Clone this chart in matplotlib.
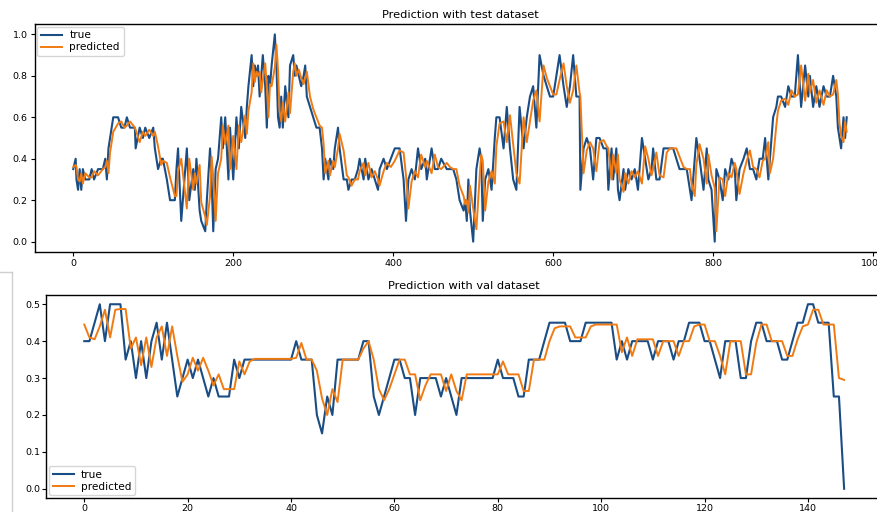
import matplotlib
matplotlib.use("Agg")
import matplotlib.pyplot as plt
from matplotlib.lines import Line2D

# ---------------- data: test dataset (top panel) ----------------
test_idx = [0, 3, 4, 6, 8, 10, 12, 15, 20, 23, 26, 31, 37, 40, 42, 44, 46, 48, 50, 56,
            60, 64, 67, 71, 77, 78, 83, 87, 90, 95, 100, 102, 106, 110, 112, 117, 121, 127, 129, 131,
            135, 142, 145, 150, 152, 154, 158, 160, 165, 167, 171, 173, 175, 178, 181, 185, 187, 190, 194, 196,
            200, 204, 207, 210, 215, 217, 219, 223, 225, 227, 229, 231, 233, 235, 237, 240, 242, 244, 246, 248,
            252, 254, 256, 258, 260, 262, 265, 269, 271, 275, 277, 279, 282, 285, 288, 290, 292, 296, 300, 304,
            308, 311, 313, 315, 319, 321, 325, 327, 331, 333, 338, 342, 344, 348, 352, 356, 358, 363, 365, 369,
            373, 377, 381, 383, 388, 392, 397, 402, 408, 413, 416, 419, 423, 427, 431, 435, 440, 442, 448, 452,
            456, 460, 467, 471, 475, 479, 481, 483, 488, 490, 492, 494, 496, 500, 504, 508, 510, 512, 515, 519,
            523, 527, 529, 533, 538, 542, 546, 550, 554, 558, 563, 567, 571, 575, 579, 583, 588, 592, 596, 600,
            604, 608, 613, 617, 621, 625, 629, 633, 634, 638, 642, 646, 650, 654, 658, 663, 667, 669, 673, 675,
            679, 681, 683, 688, 690, 694, 698, 702, 706, 711, 715, 719, 723, 725, 729, 733, 738, 742, 746, 750,
            754, 758, 763, 767, 771, 773, 777, 779, 783, 788, 792, 794, 798, 802, 804, 808, 812, 815, 819, 823,
            827, 829, 833, 838, 842, 846, 850, 854, 858, 862, 865, 869, 871, 875, 879, 881, 885, 890, 894, 898,
            902, 906, 910, 915, 919, 921, 925, 929, 933, 938, 942, 946, 950, 954, 956, 958, 960, 963, 965, 967]

test_true = [0.35, 0.40, 0.30, 0.25, 0.35, 0.25, 0.35, 0.30, 0.30, 0.35, 0.30, 0.35, 0.35, 0.40, 0.30, 0.45, 0.50, 0.55, 0.60, 0.60,
             0.55, 0.55, 0.60, 0.55, 0.55, 0.45, 0.55, 0.50, 0.55, 0.50, 0.55, 0.45, 0.35, 0.40, 0.40, 0.30, 0.20, 0.20, 0.35, 0.45,
             0.10, 0.45, 0.20, 0.35, 0.25, 0.40, 0.15, 0.10, 0.05, 0.20, 0.45, 0.30, 0.05, 0.35, 0.40, 0.60, 0.45, 0.60, 0.30, 0.55,
             0.30, 0.60, 0.45, 0.65, 0.50, 0.65, 0.75, 0.90, 0.75, 0.85, 0.80, 0.85, 0.70, 0.80, 0.90, 0.75, 0.55, 0.80, 0.75, 0.85,
             1.00, 0.85, 0.60, 0.55, 0.70, 0.55, 0.75, 0.60, 0.85, 0.90, 0.80, 0.85, 0.80, 0.75, 0.80, 0.85, 0.70, 0.65, 0.60, 0.55,
             0.55, 0.45, 0.30, 0.40, 0.30, 0.40, 0.35, 0.45, 0.55, 0.45, 0.30, 0.30, 0.25, 0.30, 0.30, 0.35, 0.40, 0.30, 0.40, 0.30,
             0.35, 0.30, 0.25, 0.35, 0.40, 0.35, 0.40, 0.45, 0.45, 0.30, 0.10, 0.30, 0.35, 0.30, 0.45, 0.35, 0.40, 0.30, 0.45, 0.35,
             0.35, 0.40, 0.35, 0.35, 0.35, 0.30, 0.25, 0.20, 0.15, 0.20, 0.10, 0.30, 0.15, 0.00, 0.35, 0.45, 0.40, 0.10, 0.30, 0.35,
             0.25, 0.50, 0.60, 0.60, 0.45, 0.65, 0.45, 0.30, 0.25, 0.65, 0.45, 0.60, 0.70, 0.75, 0.55, 0.90, 0.80, 0.75, 0.70, 0.70,
             0.80, 0.90, 0.75, 0.65, 0.75, 0.90, 0.70, 0.70, 0.25, 0.45, 0.50, 0.45, 0.30, 0.50, 0.50, 0.45, 0.45, 0.25, 0.45, 0.30,
             0.45, 0.25, 0.20, 0.35, 0.25, 0.35, 0.30, 0.35, 0.25, 0.50, 0.40, 0.30, 0.35, 0.45, 0.30, 0.30, 0.45, 0.45, 0.45, 0.45,
             0.40, 0.35, 0.35, 0.35, 0.25, 0.20, 0.40, 0.50, 0.40, 0.25, 0.45, 0.30, 0.25, 0.00, 0.35, 0.30, 0.20, 0.35, 0.30, 0.40,
             0.35, 0.20, 0.35, 0.40, 0.45, 0.35, 0.35, 0.30, 0.40, 0.40, 0.50, 0.30, 0.40, 0.60, 0.65, 0.70, 0.70, 0.65, 0.75, 0.70,
             0.70, 0.90, 0.65, 0.85, 0.70, 0.80, 0.65, 0.75, 0.65, 0.75, 0.70, 0.70, 0.80, 0.70, 0.55, 0.50, 0.45, 0.60, 0.50, 0.60]

test_pred = [0.36, 0.37, 0.36, 0.30, 0.29, 0.33, 0.28, 0.33, 0.31, 0.31, 0.34, 0.32, 0.35, 0.36, 0.39, 0.33, 0.43, 0.48, 0.53, 0.57,
             0.58, 0.55, 0.56, 0.58, 0.55, 0.54, 0.48, 0.53, 0.51, 0.54, 0.51, 0.53, 0.46, 0.37, 0.39, 0.38, 0.31, 0.22, 0.22, 0.34,
             0.40, 0.16, 0.40, 0.25, 0.33, 0.28, 0.37, 0.19, 0.12, 0.08, 0.22, 0.41, 0.31, 0.10, 0.33, 0.40, 0.56, 0.47, 0.56, 0.35,
             0.51, 0.35, 0.56, 0.48, 0.61, 0.52, 0.63, 0.72, 0.86, 0.77, 0.82, 0.80, 0.82, 0.72, 0.78, 0.86, 0.75, 0.60, 0.76, 0.75,
             0.84, 0.95, 0.83, 0.63, 0.58, 0.67, 0.58, 0.72, 0.62, 0.82, 0.86, 0.80, 0.83, 0.79, 0.76, 0.79, 0.82, 0.70, 0.64, 0.60,
             0.56, 0.55, 0.47, 0.33, 0.39, 0.32, 0.39, 0.36, 0.45, 0.52, 0.44, 0.32, 0.31, 0.27, 0.30, 0.30, 0.34, 0.38, 0.32, 0.38,
             0.31, 0.34, 0.30, 0.27, 0.34, 0.38, 0.36, 0.39, 0.44, 0.43, 0.32, 0.16, 0.29, 0.34, 0.31, 0.42, 0.36, 0.39, 0.33, 0.42,
             0.36, 0.35, 0.38, 0.36, 0.35, 0.35, 0.31, 0.27, 0.22, 0.18, 0.20, 0.14, 0.27, 0.16, 0.06, 0.31, 0.42, 0.39, 0.15, 0.29,
             0.34, 0.28, 0.46, 0.57, 0.58, 0.48, 0.61, 0.47, 0.33, 0.28, 0.60, 0.48, 0.58, 0.68, 0.73, 0.58, 0.85, 0.79, 0.75, 0.71,
             0.71, 0.78, 0.86, 0.75, 0.67, 0.73, 0.85, 0.72, 0.70, 0.33, 0.44, 0.48, 0.45, 0.34, 0.48, 0.49, 0.46, 0.45, 0.30, 0.42,
             0.33, 0.42, 0.30, 0.24, 0.33, 0.28, 0.34, 0.31, 0.34, 0.28, 0.46, 0.40, 0.32, 0.35, 0.43, 0.32, 0.31, 0.43, 0.45, 0.45,
             0.45, 0.41, 0.36, 0.35, 0.35, 0.28, 0.22, 0.37, 0.47, 0.40, 0.28, 0.42, 0.32, 0.26, 0.05, 0.31, 0.30, 0.22, 0.33, 0.31,
             0.38, 0.35, 0.23, 0.33, 0.39, 0.44, 0.36, 0.35, 0.31, 0.39, 0.40, 0.48, 0.33, 0.40, 0.56, 0.63, 0.68, 0.69, 0.66, 0.73,
             0.70, 0.71, 0.85, 0.68, 0.81, 0.72, 0.78, 0.67, 0.73, 0.66, 0.73, 0.70, 0.71, 0.78, 0.71, 0.57, 0.51, 0.48, 0.58, 0.53]

# ---------------- data: val dataset (bottom panel) ----------------
val_true = [0.40, 0.40, 0.45, 0.50, 0.40, 0.50, 0.50, 0.50, 0.35, 0.40,
            0.30, 0.40, 0.30, 0.40, 0.45, 0.35, 0.45, 0.35, 0.25, 0.30,
            0.35, 0.30, 0.35, 0.30, 0.25, 0.30, 0.25, 0.25, 0.25, 0.35,
            0.30, 0.35, 0.35, 0.35, 0.35, 0.35, 0.35, 0.35, 0.35, 0.35,
            0.35, 0.40, 0.35, 0.35, 0.35, 0.20, 0.15, 0.25, 0.20, 0.35,
            0.35, 0.35, 0.35, 0.35, 0.40, 0.40, 0.25, 0.20, 0.25, 0.30,
            0.35, 0.35, 0.30, 0.30, 0.20, 0.30, 0.30, 0.30, 0.30, 0.25,
            0.30, 0.25, 0.20, 0.30, 0.30, 0.30, 0.30, 0.30, 0.30, 0.30,
            0.35, 0.30, 0.30, 0.30, 0.25, 0.25, 0.35, 0.35, 0.35, 0.40,
            0.45, 0.45, 0.45, 0.45, 0.40, 0.40, 0.40, 0.45, 0.45, 0.45,
            0.45, 0.45, 0.45, 0.35, 0.40, 0.35, 0.40, 0.40, 0.40, 0.40,
            0.35, 0.40, 0.40, 0.40, 0.35, 0.40, 0.40, 0.45, 0.45, 0.45,
            0.40, 0.40, 0.35, 0.30, 0.40, 0.40, 0.40, 0.30, 0.30, 0.40,
            0.45, 0.45, 0.40, 0.40, 0.40, 0.35, 0.35, 0.40, 0.45, 0.45,
            0.50, 0.50, 0.45, 0.45, 0.45, 0.25, 0.25, 0.00]

val_pred = [0.445, 0.410, 0.405, 0.440, 0.485, 0.410, 0.485, 0.487, 0.487, 0.380,
            0.410, 0.335, 0.410, 0.330, 0.410, 0.440, 0.360, 0.440, 0.360, 0.290,
            0.310, 0.355, 0.320, 0.355, 0.320, 0.280, 0.310, 0.270, 0.270, 0.270,
            0.345, 0.310, 0.345, 0.352, 0.352, 0.352, 0.352, 0.352, 0.352, 0.352,
            0.352, 0.355, 0.395, 0.350, 0.350, 0.320, 0.245, 0.200, 0.270, 0.235,
            0.350, 0.350, 0.350, 0.350, 0.380, 0.400, 0.350, 0.270, 0.240, 0.270,
            0.310, 0.350, 0.350, 0.310, 0.310, 0.240, 0.280, 0.310, 0.310, 0.310,
            0.265, 0.310, 0.265, 0.240, 0.310, 0.310, 0.310, 0.310, 0.310, 0.310,
            0.310, 0.345, 0.310, 0.310, 0.310, 0.265, 0.265, 0.350, 0.350, 0.350,
            0.400, 0.435, 0.440, 0.440, 0.440, 0.410, 0.410, 0.410, 0.440, 0.445,
            0.445, 0.445, 0.445, 0.445, 0.370, 0.410, 0.360, 0.405, 0.405, 0.405,
            0.405, 0.360, 0.400, 0.400, 0.400, 0.360, 0.400, 0.400, 0.440, 0.445,
            0.445, 0.400, 0.400, 0.360, 0.310, 0.400, 0.400, 0.400, 0.310, 0.310,
            0.395, 0.445, 0.445, 0.400, 0.400, 0.400, 0.360, 0.360, 0.405, 0.440,
            0.445, 0.485, 0.485, 0.445, 0.445, 0.445, 0.300, 0.295]

val_idx = list(range(len(val_true)))

# ---------------- styling ----------------
BLUE = "#1b4d85"
ORANGE = "#f07b12"
plt.rcParams["font.family"] = ["DejaVu Sans"]

fig = plt.figure(figsize=(8.78, 5.12), dpi=100)

ax1 = fig.add_axes([0.0394, 0.5078, 0.969, 0.4453])
ax1.plot(test_idx, test_true, color=BLUE, lw=1.5, label="true")
ax1.plot(test_idx, test_pred, color=ORANGE, lw=1.4, label="predicted")
ax1.set_title("Prediction with test dataset", fontsize=8.2, pad=4)
ax1.set_xticks([0, 200, 400, 600, 800, 1000])
ax1.set_yticks([0.0, 0.2, 0.4, 0.6, 0.8, 1.0])
ax1.tick_params(labelsize=6.8, length=3, pad=2)
ax1.legend(loc="upper left", fontsize=7.6, handlelength=2.0, borderpad=0.35,
           labelspacing=0.2, borderaxespad=0.25, handletextpad=0.7)

ax2 = fig.add_axes([0.0527, 0.0273, 0.952, 0.3965])
ax2.plot(val_idx, val_true, color=BLUE, lw=1.5, label="true")
ax2.plot(val_idx, val_pred, color=ORANGE, lw=1.4, label="predicted")
ax2.set_title("Prediction with val dataset", fontsize=8.2, pad=4)
ax2.set_xticks([0, 20, 40, 60, 80, 100, 120, 140])
ax2.set_yticks([0.0, 0.1, 0.2, 0.3, 0.4, 0.5])
ax2.tick_params(labelsize=6.8, length=3, pad=1.2)
ax2.legend(loc="lower left", fontsize=7.6, handlelength=2.0, borderpad=0.35,
           labelspacing=0.2, borderaxespad=0.25, handletextpad=0.7)

for ax in (ax1, ax2):
    for s in ax.spines.values():
        s.set_linewidth(1.0)

# light separator seen at the left of the lower panel
fig.add_artist(Line2D([0, 12 / 878], [1 - 271.5 / 512, 1 - 271.5 / 512],
                      transform=fig.transFigure, color="#cfcfcf", lw=1))
fig.add_artist(Line2D([12 / 878, 12 / 878], [0, 1 - 271.5 / 512],
                      transform=fig.transFigure, color="#cfcfcf", lw=1))

fig.savefig("out.png", dpi=100)
